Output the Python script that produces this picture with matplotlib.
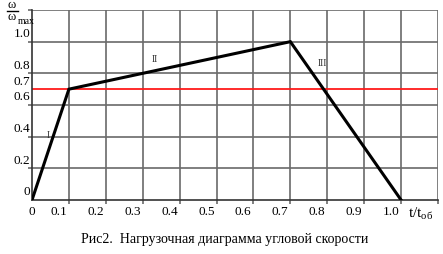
import matplotlib.pyplot as plt
from matplotlib.lines import Line2D

plt.rcParams['font.family'] = ['Liberation Serif', 'DejaVu Serif']
plt.rcParams['mathtext.fontset'] = 'custom'
plt.rcParams['mathtext.rm'] = 'Liberation Serif'
plt.rcParams['mathtext.it'] = 'Liberation Serif:italic'

# Load diagram (relative time vs relative angular speed)
t_rel = [0, 0.1, 0.7, 1.0]
w_rel = [0, 0.7, 1.0, 0]
w_level = 0.7

x_grid = [0.1 * i for i in range(12)]
y_grid = [0, 0.2, 0.4, 0.6, 0.8, 1.0, 1.2]
x_labels = ["0", "0.1", "0.2", "0.3", "0.4", "0.5", "0.6", "0.7", "0.8", "0.9", "1.0"]
y_labels = ["0", "0.2", "0.4", "0.6", "0.7", "0.8", "1.0"]
y_label_pos = [0, 0.2, 0.4, 0.6, 0.7, 0.8, 1.0]
stages = ["I", "II", "III"]
stage_pos = [(0.043, 0.41), (0.332, 0.89), (0.786, 0.86)]

fig = plt.figure(figsize=(4.43, 2.54), dpi=100)
ax = fig.add_axes([32 / 443, 54 / 254, 406 / 443, 190 / 254])
ax.set_xlim(0, 1.1)
ax.set_ylim(0, 1.2)

# Grid
grid_color = "#6a6a6a"
for x in x_grid[1:]:
    ax.axvline(x, color=grid_color, lw=1.2, zorder=1)
for y in y_grid[1:]:
    ax.axhline(y, color=grid_color, lw=1.2, zorder=1)

ax.axhline(w_level, color="#ff1a1a", lw=1.3, zorder=2)
ax.plot(t_rel, w_rel, color="black", lw=2.2, zorder=3, solid_joinstyle="miter")

for s in ["top", "right"]:
    ax.spines[s].set_visible(False)
for s in ["left", "bottom"]:
    ax.spines[s].set_color("#333333")
    ax.spines[s].set_linewidth(1.2)

ax.set_xticks(x_grid[1:])
ax.set_yticks(y_grid[1:])
ax.set_xticklabels([])
ax.set_yticklabels([])
ax.tick_params(direction="out", length=3, color=grid_color, width=1.2)

fs = 9.5
for x, lab in zip(x_grid, x_labels):
    ax.text(x - 0.005 if x > 0 else x, -0.04, lab, ha="right" if x > 0 else "center",
            va="top", fontsize=fs)
for y, lab in zip(y_label_pos, y_labels):
    ax.text(-0.005, y + 0.01, lab, ha="right", va="bottom", fontsize=fs)

for lab, (x, y) in zip(stages, stage_pos):
    ax.text(x, y, lab, ha="center", va="center", fontsize=7, color="#333333")

ax.text(1.02, -0.04, r"$\mathregular{t/t_{об}}$", ha="left", va="top", fontsize=11)

# y-axis label: omega / omega_max as a hand-built fraction
W, H = 443, 254
fig.text(12 / W, 1 - 7.5 / H, "ω", ha="center", va="baseline", fontsize=9)
fig.add_artist(Line2D([7 / W, 18 / W], [1 - 10.5 / H, 1 - 10.5 / H],
                      transform=fig.transFigure, color="black", lw=1))
fig.text(12 / W, 1 - 20.5 / H, "ω", ha="center", va="baseline", fontsize=9)
fig.text(17.5 / W, 1 - 24 / H, "max", ha="left", va="baseline", fontsize=7)

fig.text(225 / W, 1 - 240 / H, "Рис2.  Нагрузочная диаграмма угловой скорости",
         ha="center", va="center", fontsize=10)

fig.savefig("out.png", dpi=100)
plt.close(fig)
